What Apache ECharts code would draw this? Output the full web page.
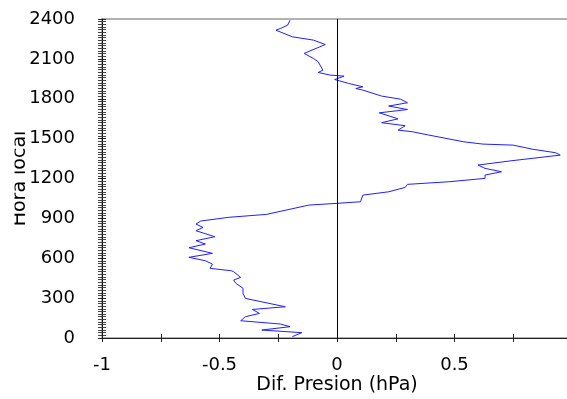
<!DOCTYPE html>
<html>
<head>
<meta charset="utf-8">
<script src="https://cdn.jsdelivr.net/npm/echarts@6/dist/echarts.min.js"></script>
<style>
html,body{margin:0;padding:0;background:#fff;}
#c{width:567px;height:399px;}
</style>
</head>
<body>
<div id="c"></div>
<script>
// Hora local (HHMM-like scale) and pressure difference (hPa)
var hours = [10, 40, 60, 85, 105, 130, 160, 185, 215, 235, 298, 336, 374, 411, 436, 456, 499, 506, 524, 556, 581, 607, 637, 679, 707, 732, 762, 807, 832, 857, 880, 908, 930, 1000, 1013, 1025, 1075, 1100, 1133, 1156, 1176, 1201, 1226, 1251, 1276, 1301, 1333, 1376, 1394, 1421, 1451, 1459, 1476, 1527, 1552, 1564, 1597, 1620, 1649, 1694, 1719, 1745, 1770, 1797, 1820, 1865, 1877, 1890, 1915, 1935, 1945, 1970, 1978, 1998, 2015, 2078, 2103, 2141, 2208, 2241, 2266, 2316, 2329, 2354, 2391];
var diffs = [-0.19, -0.15, -0.32, -0.20, -0.24, -0.41, -0.39, -0.33, -0.36, -0.22, -0.39, -0.40, -0.40, -0.43, -0.44, -0.41, -0.44, -0.45, -0.54, -0.53, -0.56, -0.63, -0.53, -0.63, -0.56, -0.60, -0.52, -0.60, -0.57, -0.60, -0.58, -0.46, -0.30, -0.12, 0.00, 0.10, 0.11, 0.22, 0.29, 0.30, 0.48, 0.63, 0.63, 0.70, 0.63, 0.60, 0.74, 0.95, 0.93, 0.83, 0.75, 0.62, 0.54, 0.39, 0.32, 0.26, 0.29, 0.19, 0.26, 0.18, 0.30, 0.22, 0.30, 0.27, 0.19, 0.11, 0.08, 0.11, 0.05, 0.01, -0.01, 0.03, -0.03, -0.08, -0.06, -0.08, -0.10, -0.14, -0.05, -0.10, -0.19, -0.26, -0.24, -0.21, -0.20];
var xTicks = {min: -1, max: 1, step: 0.5};
var yTicks = {min: 0, max: 2400, step: 300};
var xTitle = 'Dif. Presion (hPa)';
var yTitle = 'Hora local';

var seriesData = hours.map(function (h, i) { return [diffs[i], h]; });

var FONT = 'DejaVu Sans';
var gridBox = {left: 102, right: -5, top: 19, bottom: 61};
function plain(v) { return String(v); }
var chart = echarts.init(document.getElementById('c'), null, {renderer: 'canvas'});
chart.setOption({
  animation: false,
  backgroundColor: '#fff',
  grid: [
    Object.assign({show: true, borderColor: '#999', borderWidth: 1.5, backgroundColor: 'transparent', containLabel: false, outerBoundsMode: 'none'}, gridBox),
    Object.assign({show: false, containLabel: false, outerBoundsMode: 'none'}, gridBox)
  ],
  xAxis: [{
    type: 'value', gridIndex: 0, min: xTicks.min, max: xTicks.max, interval: xTicks.step,
    name: xTitle, nameLocation: 'middle', nameGap: 38, nameMoveOverlap: false,
    nameTextStyle: {fontFamily: FONT, fontSize: 19, color: '#000'},
    axisLine: {show: true, onZero: false, lineStyle: {color: '#222', width: 1}},
    axisTick: {show: true, inside: false, length: 4, lineStyle: {color: '#222'}},
    minorTick: {show: true, splitNumber: 2, length: 4, lineStyle: {color: '#222'}},
    axisLabel: {fontFamily: FONT, fontSize: 18, color: '#000', margin: 18, formatter: plain, hideOverlap: false},
    splitLine: {show: false}
  }, {
    type: 'value', gridIndex: 1, min: xTicks.min, max: xTicks.max, interval: xTicks.step,
    axisLine: {show: false, onZero: false},
    axisTick: {show: true, inside: true, length: 4, lineStyle: {color: '#222'}},
    minorTick: {show: true, splitNumber: 2, length: 4, lineStyle: {color: '#222'}},
    axisLabel: {show: false},
    splitLine: {show: false}
  }],
  yAxis: [{
    type: 'value', gridIndex: 0, min: yTicks.min, max: yTicks.max, interval: yTicks.step,
    name: yTitle, nameLocation: 'middle', nameGap: 72, nameRotate: 90, nameMoveOverlap: false,
    nameTextStyle: {fontFamily: FONT, fontSize: 19, color: '#000'},
    axisLine: {show: true, onZero: false, lineStyle: {color: '#000', width: 1}},
    axisTick: {show: true, inside: false, length: 4, lineStyle: {color: '#222'}},
    minorTick: {show: true, splitNumber: 15, length: 4, lineStyle: {color: '#444'}},
    axisLabel: {fontFamily: FONT, fontSize: 18, color: '#000', margin: 27, formatter: plain},
    splitLine: {show: false}
  }, {
    type: 'value', gridIndex: 1, min: yTicks.min, max: yTicks.max, interval: yTicks.step,
    axisLine: {show: false, onZero: false},
    axisTick: {show: true, inside: true, length: 4, lineStyle: {color: '#222'}},
    minorTick: {show: true, splitNumber: 15, length: 4, lineStyle: {color: '#444'}},
    axisLabel: {show: false},
    splitLine: {show: false}
  }],
  series: [{
    type: 'line', xAxisIndex: 0, yAxisIndex: 0,
    data: seriesData,
    showSymbol: false, symbol: 'none',
    lineStyle: {color: '#1f1fff', width: 1},
    markLine: {
      silent: true, symbol: 'none', label: {show: false},
      lineStyle: {color: '#000', width: 1, type: 'solid'},
      data: [{xAxis: 0}]
    }
  }],
  graphic: [{
    type: 'rect', left: 0, top: 110, z: 100,
    shape: {width: 14.5, height: 140},
    style: {fill: '#fff'}
  }]
});
</script>
</body>
</html>
